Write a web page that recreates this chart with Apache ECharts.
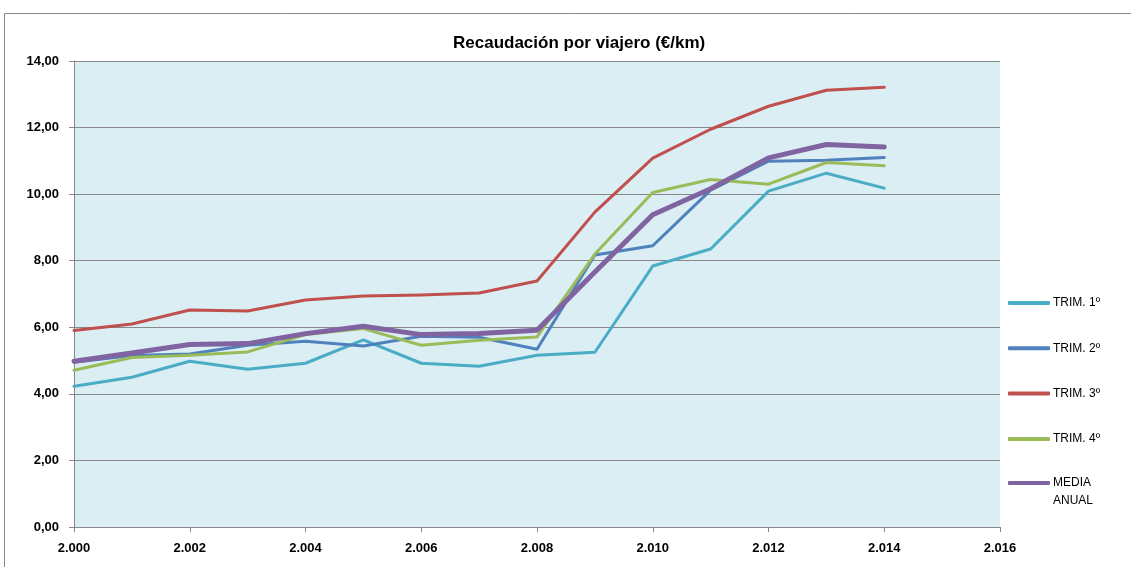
<!DOCTYPE html>
<html>
<head>
<meta charset="utf-8">
<script src="https://cdn.jsdelivr.net/npm/echarts@6/dist/echarts.min.js"></script>
<style>
  html, body { margin: 0; padding: 0; background: #fff; }
  #myEcharts { width: 1131px; height: 567px; }
</style>
</head>
<body>
<div id="myEcharts"></div>
<script>
var years = [2000, 2001, 2002, 2003, 2004, 2005, 2006, 2007, 2008, 2009, 2010, 2011, 2012, 2013, 2014];
var trim1 = [4.23, 4.50, 4.98, 4.74, 4.92, 5.62, 4.92, 4.83, 5.16, 5.25, 7.84, 8.35, 10.09, 10.63, 10.18];
var trim2 = [4.95, 5.15, 5.20, 5.46, 5.58, 5.44, 5.73, 5.70, 5.34, 8.17, 8.45, 10.12, 10.99, 11.02, 11.10];
var trim3 = [5.90, 6.10, 6.52, 6.49, 6.82, 6.94, 6.97, 7.03, 7.39, 9.46, 11.08, 11.95, 12.64, 13.12, 13.21];
var trim4 = [4.71, 5.09, 5.16, 5.26, 5.78, 5.96, 5.46, 5.61, 5.71, 8.20, 10.05, 10.44, 10.30, 10.95, 10.85];
var media = [4.98, 5.23, 5.48, 5.51, 5.81, 6.03, 5.78, 5.81, 5.91, 7.66, 9.38, 10.16, 11.09, 11.49, 11.42];
var seriesNames = ['TRIM. 1º', 'TRIM. 2º', 'TRIM. 3º', 'TRIM. 4º', 'MEDIA ANUAL'];

function pairs(vals) {
    return vals.map(function (v, i) { return [years[i], v]; });
}

var myChart = echarts.init(document.getElementById('myEcharts'));
var font = 'Liberation Sans, Arial, sans-serif';

function line(name, vals, color, width) {
    return {
        name: name,
        type: 'line',
        data: pairs(vals),
        symbol: 'none',
        lineStyle: { color: color, width: width, cap: 'round', join: 'round' },
        itemStyle: { color: color }
    };
}

var legendBase = {
    orient: 'vertical',
    left: 1008,
    padding: 0,
    itemWidth: 42,
    itemHeight: 4,
    itemGap: 27.3,
    icon: 'roundRect',
    textStyle: { fontSize: 12, color: '#000', fontFamily: font, padding: [0, 0, 0, -2], lineHeight: 18 }
};

myChart.setOption({
    animation: false,
    textStyle: { fontFamily: font },
    graphic: [{
        type: 'rect',
        shape: { x: 4.5, y: 13.5, width: 1140, height: 570 },
        style: { fill: null, stroke: '#888', lineWidth: 1 },
        z: -10
    }],
    title: {
        text: 'Recaudación por viajero (€/km)',
        left: 448,
        top: 30,
        textStyle: { fontSize: 17, fontWeight: 'bold', color: '#000', fontFamily: font }
    },
    grid: {
        left: 74,
        right: 131,
        top: 61,
        bottom: 40,
        show: true,
        backgroundColor: '#DBEEF4',
        borderWidth: 0
    },
    legend: [
        Object.assign({}, legendBase, { top: 294, data: seriesNames.slice(0, 4) }),
        // media anual: icon next to the first of its two lines
        Object.assign({}, legendBase, {
            top: 456,
            data: seriesNames.slice(4),
            formatter: function () { return '\u00a0\nMEDIA\nANUAL'; }
        })
    ],
    xAxis: {
        type: 'value',
        min: 2000,
        max: 2016,
        interval: 2,
        axisLine: { show: true, lineStyle: { color: '#888', width: 1 } },
        axisTick: { show: true, length: 5, lineStyle: { color: '#888' } },
        splitLine: { show: false },
        axisLabel: {
            color: '#000',
            fontWeight: 'bold',
            fontSize: 13,
            margin: 15,
            formatter: function (v) { return String(v).replace(/(\d)(\d{3})$/, '$1.$2'); }
        }
    },
    yAxis: {
        type: 'value',
        min: 0,
        max: 14,
        interval: 2,
        axisLine: { show: true, lineStyle: { color: '#888', width: 1 } },
        axisTick: { show: true, length: 5, lineStyle: { color: '#888' } },
        splitLine: { show: true, lineStyle: { color: '#888', width: 1 } },
        axisLabel: {
            color: '#000',
            fontWeight: 'bold',
            fontSize: 13,
            margin: 15,
            formatter: function (v) { return v.toFixed(2).replace('.', ','); }
        }
    },
    series: [
        line(seriesNames[0], trim1, '#4BACC6', 3),
        line(seriesNames[1], trim2, '#4F81BD', 3),
        line(seriesNames[2], trim3, '#C0504D', 3),
        line(seriesNames[3], trim4, '#9BBB59', 3),
        line(seriesNames[4], media, '#8064A2', 5)
    ]
});
</script>
</body>
</html>
